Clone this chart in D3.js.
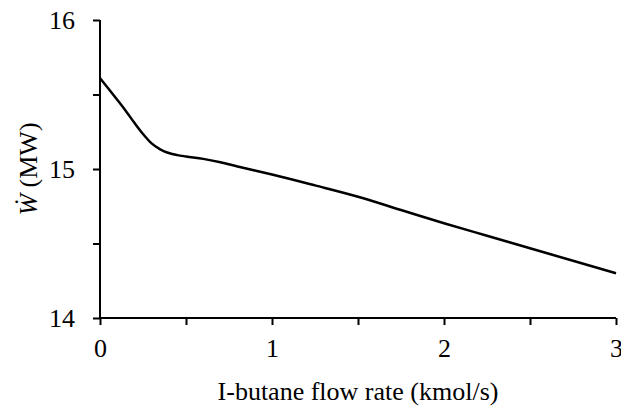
<!DOCTYPE html>
<html>
<head>
<meta charset="utf-8">
<script src="https://cdn.jsdelivr.net/npm/d3@7"></script>
<style>
 body{margin:0;background:#fff;}
 svg text{font-family:"Liberation Serif","Times New Roman",serif !important;fill:#000;}
</style>
</head>
<body>
<div id="chart"></div>
<script>
// flow rate of i-butane (kmol/s) and net power (MW)
const flowRate = [0, 0.1, 0.15, 0.2, 0.25, 0.3, 0.35, 0.4, 0.45, 0.5, 0.6, 0.7, 0.8, 0.9, 1.0, 1.25, 1.5, 1.75, 2.0, 2.25, 2.5, 2.75, 3.0];
const power = [15.61, 15.465, 15.39, 15.31, 15.235, 15.172, 15.132, 15.107, 15.093, 15.084, 15.068, 15.045, 15.017, 14.99, 14.963, 14.89, 14.814, 14.725, 14.636, 14.552, 14.468, 14.384, 14.30];
const xTicks = [0, 1, 2, 3];
const xMinor = [0.5, 1.5, 2.5];
const yTicks = [14, 15, 16];
const yMinor = [14.5, 15.5];

const data = flowRate.map((f,i)=>({x:f, y:power[i]}));

// set the margin of the visualization
const margin = {top:20, right:5, bottom:94, left:100};
const width = 621, height = 412;
const visWidth = width - margin.left - margin.right;
const visHeight = height - margin.top - margin.bottom;

const svg = d3.select('#chart').append('svg')
    .attr('width', width)
    .attr('height', height);

const container = svg.append('g')
    .attr('transform', `translate(${margin.left}, ${margin.top})`);

const xScale = d3.scaleLinear()
    .domain([0,3])
    .range([0,visWidth]);

const yScale = d3.scaleLinear()
    .domain([14,16])
    .range([visHeight,0]);

// x axis: labelled ticks + minor ticks
container.append('g')
    .attr('class','axis')
    .attr('transform', `translate(0,${visHeight})`)
    .call(d3.axisBottom(xScale).tickValues(xTicks).tickSize(7).tickPadding(14).tickFormat(d3.format('d')));

container.append('g')
    .attr('class','axis')
    .attr('transform', `translate(0,${visHeight})`)
    .call(d3.axisBottom(xScale).tickValues(xMinor).tickSize(7).tickFormat(''));

// y axis
container.append('g')
    .attr('class','axis')
    .call(d3.axisLeft(yScale).tickValues(yTicks).tickSize(7).tickPadding(18).tickFormat(d3.format('d')));

container.append('g')
    .attr('class','axis')
    .call(d3.axisLeft(yScale).tickValues(yMinor).tickSize(7).tickFormat(''));

container.selectAll('.domain').remove();

container.selectAll('.axis')
    .attr('font-family','"Liberation Serif","Times New Roman",serif')
    .attr('font-size',26);

// axis lines without end caps
container.append('line')
    .attr('x1',0).attr('x2',visWidth)
    .attr('y1',visHeight).attr('y2',visHeight)
    .attr('stroke','#000').attr('stroke-width',2);

container.append('line')
    .attr('x1',0).attr('x2',0)
    .attr('y1',0).attr('y2',visHeight)
    .attr('stroke','#000').attr('stroke-width',2);

container.selectAll('.tick line')
    .attr('stroke','#000')
    .attr('stroke-width',2);

// the curve
const line = d3.line()
    .x(d=>xScale(d.x))
    .y(d=>yScale(d.y))
    .curve(d3.curveMonotoneX);

container.append('path')
    .datum(data)
    .attr('fill','none')
    .attr('stroke','#000')
    .attr('stroke-width',2.5)
    .attr('d', line);

// axis titles
svg.append('text')
    .attr('x', margin.left + visWidth/2)
    .attr('y', 400)
    .attr('text-anchor','middle')
    .style('font-size','26px')
    .text('I-butane flow rate (kmol/s)');

const yTitle = svg.append('text')
    .attr('transform', `translate(37, ${margin.top + visHeight/2}) rotate(-90)`)
    .attr('text-anchor','middle')
    .style('font-size','26px');

yTitle.append('tspan')
    .style('font-style','italic')
    .text('W\u0307');

yTitle.append('tspan')
    .text(' (MW)');
</script>
</body>
</html>
